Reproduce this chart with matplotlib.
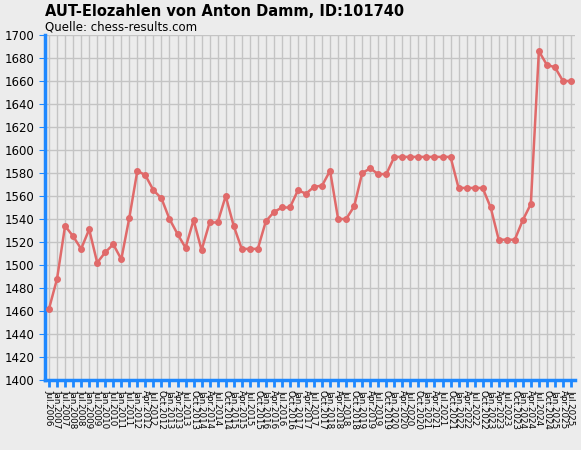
import matplotlib
matplotlib.use("Agg")
import matplotlib.pyplot as plt

# Data
labels = (["Jul.2006"] +
          [f"{m}.{y}" for y in range(2007, 2012) for m in ("Jan", "Jul")] +
          [f"{m}.{y}" for y in range(2012, 2026) for m in ("Jan", "Apr", "Jul", "Oct")])
labels = labels[:labels.index("Jul.2025") + 1]

elo = [1462, 1488, 1534, 1525, 1514, 1531, 1502, 1511, 1518, 1505, 1541,
       1582, 1578, 1565, 1558, 1540, 1527, 1515, 1539, 1513, 1537, 1537,
       1560, 1534, 1514, 1514, 1514, 1538, 1546, 1550, 1550, 1565, 1562,
       1568, 1569, 1582, 1540, 1540, 1551, 1580, 1584, 1579, 1579,
       1594, 1594, 1594, 1594, 1594, 1594, 1594, 1594,
       1567, 1567, 1567, 1567, 1550, 1522, 1522, 1522, 1539, 1553,
       1686, 1674, 1672, 1660, 1660]

bg = "#ececec"
fig = plt.figure(figsize=(5.81, 4.50), dpi=100, facecolor=bg)
ax = fig.add_axes([45 / 581, 70 / 450, 530 / 581, 345 / 450], facecolor=bg)

x = list(range(len(elo)))
ax.plot(x, elo, color="#e06a6a", lw=1.8, marker="o", ms=4, zorder=3)

ax.set_xlim(-0.5, len(elo) - 0.5)
ax.set_ylim(1400, 1700)
ax.set_yticks(range(1400, 1701, 20))
ax.set_xticks(x)
ax.set_xticklabels(labels, rotation=-90, fontsize=6.3, family="DejaVu Sans")
ax.tick_params(axis="y", labelsize=8.5, color="#1e88ff", length=4)
ax.tick_params(axis="x", color="#1e88ff", length=5, width=2, pad=2)
ax.grid(True, color="#c4c4c4", lw=1)
ax.set_axisbelow(True)
for s in ("top", "right"):
    ax.spines[s].set_visible(False)
for s in ("left", "bottom"):
    ax.spines[s].set_color("#1e88ff")
    ax.spines[s].set_linewidth(2.5)

fig.text(45 / 581, 1 - 12 / 450, "AUT-Elozahlen von Anton Damm, ID:101740",
         fontsize=10.5, fontweight="bold", va="center")
fig.text(45 / 581, 1 - 27 / 450, "Quelle: chess-results.com",
         fontsize=8.5, va="center")

fig.savefig("out.png", dpi=100, facecolor=bg)
